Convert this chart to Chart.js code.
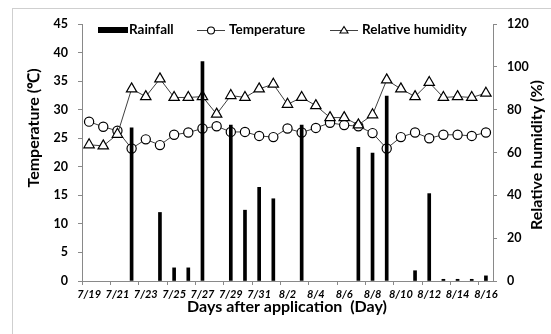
<!DOCTYPE html>
<html>
<head>
<meta charset="utf-8">
<script src="https://cdn.jsdelivr.net/npm/chart.js@4.4.1/dist/chart.umd.min.js"></script>
<style>
  html, body { margin: 0; padding: 0; background: #fff; }
  #wrap { width: 551px; height: 334px; }
</style>
</head>
<body>
<div id="wrap"><canvas id="c" width="551" height="334"></canvas></div>
<script>
const dates = ['7/19','7/20','7/21','7/22','7/23','7/24','7/25','7/26','7/27','7/28','7/29','7/30','7/31',
  '8/1','8/2','8/3','8/4','8/5','8/6','8/7','8/8','8/9','8/10','8/11','8/12','8/13','8/14','8/15','8/16'];
const rainfall = [null,null,null,26.8,null,12.0,2.3,2.3,38.4,null,27.3,12.4,16.4,14.4,null,27.3,null,null,null,
  23.4,22.4,32.4,null,1.8,15.3,0.3,0.3,0.3,0.9];
const temperature = [27.9,27.0,26.3,23.2,24.8,23.8,25.6,26.0,26.7,27.1,26.1,26.1,25.4,25.2,26.7,26.0,26.8,27.7,27.3,
  27.1,25.9,23.2,25.2,26.0,25.0,25.6,25.6,25.4,26.0];
const humidity = [63.6,63.1,68.5,89.7,86.1,94.4,85.7,85.7,86.1,77.9,86.6,85.7,89.7,91.9,82.5,85.7,81.9,76.3,76.3,
  72.9,77.6,93.9,89.7,86.1,92.7,85.7,86.1,85.7,87.7];
const tempTicks = [0,5,10,15,20,25,30,35,40,45];
const rhTicks = [0,20,40,60,80,100,120];

const FONT = 'Lato, "Liberation Sans", sans-serif';
const AXIS = '#898989';

const decor = {
  id: 'decor',
  beforeDraw(chart) {
    const ctx = chart.ctx;
    ctx.save();
    ctx.fillStyle = '#fff';
    ctx.fillRect(0, 0, chart.width, chart.height);
    ctx.strokeStyle = '#cfcfcf';
    ctx.lineWidth = 1;
    ctx.strokeRect(12.5, 8.5, chart.width + 20, chart.height + 20);
    ctx.restore();
  },
  afterDraw(chart) {
    const ctx = chart.ctx;
    ctx.save();
    ctx.fillStyle = '#000';
    // axis titles
    ctx.font = 'bold 16px ' + FONT;
    ctx.textAlign = 'center';
    ctx.textBaseline = 'middle';
    ctx.save();
    ctx.translate(34, 128);
    ctx.rotate(-Math.PI / 2);
    ctx.fillText('Temperature (\u2103)', 0, 0);
    ctx.restore();
    ctx.save();
    ctx.translate(537, 155);
    ctx.rotate(-Math.PI / 2);
    ctx.fillText('Relative humidity (%)', 0, 0);
    ctx.restore();
    ctx.fillText('Days after application  (Day)', 287, 307);

    // legend
    const ly = 30;
    ctx.font = 'bold 13.5px ' + FONT;
    ctx.textAlign = 'left';
    ctx.fillRect(98, ly - 3, 30, 6);
    ctx.fillText('Rainfall', 129, ly);

    ctx.strokeStyle = '#404040';
    ctx.lineWidth = 1;
    ctx.beginPath(); ctx.moveTo(197, ly + 0.5); ctx.lineTo(225, ly + 0.5); ctx.stroke();
    ctx.strokeStyle = '#000';
    ctx.fillStyle = '#fff';
    ctx.lineWidth = 1.1;
    ctx.beginPath(); ctx.arc(211, ly + 0.5, 3.5, 0, Math.PI * 2); ctx.fill(); ctx.stroke();
    ctx.fillStyle = '#000';
    ctx.fillText('Temperature', 229, ly);

    ctx.strokeStyle = '#404040';
    ctx.lineWidth = 1;
    ctx.beginPath(); ctx.moveTo(330, ly + 0.5); ctx.lineTo(358, ly + 0.5); ctx.stroke();
    ctx.strokeStyle = '#000';
    ctx.fillStyle = '#fff';
    ctx.lineWidth = 1.1;
    ctx.beginPath(); ctx.moveTo(344, ly - 3.5); ctx.lineTo(348, ly + 3); ctx.lineTo(340, ly + 3); ctx.closePath();
    ctx.fill(); ctx.stroke();
    ctx.fillStyle = '#000';
    ctx.fillText('Relative humidity', 362, ly);
    ctx.restore();
  }
};

new Chart(document.getElementById('c'), {
  data: {
    labels: dates,
    datasets: [
      {
        type: 'bar', label: 'Rainfall', data: rainfall, yAxisID: 'y',
        backgroundColor: '#000', borderWidth: 0, barThickness: 3, order: 0
      },
      {
        type: 'line', label: 'Temperature', data: temperature, yAxisID: 'y',
        borderColor: '#404040', borderWidth: 1, pointStyle: 'circle', pointRadius: 4.6,
        pointBorderColor: '#000', pointBackgroundColor: '#fff', pointBorderWidth: 1.2,
        tension: 0, order: 2
      },
      {
        type: 'line', label: 'Relative humidity', data: humidity, yAxisID: 'y1',
        borderColor: '#404040', borderWidth: 1, pointStyle: 'triangle', pointRadius: 6,
        pointBorderColor: '#000', pointBackgroundColor: '#fff', pointBorderWidth: 1.2,
        tension: 0, order: 1
      }
    ]
  },
  options: {
    responsive: false,
    devicePixelRatio: 1,
    animation: false,
    layout: { padding: { top: 24, left: 0, right: 0, bottom: 0 } },
    plugins: { legend: { display: false }, tooltip: { enabled: false } },
    scales: {
      x: {
        type: 'category', offset: true,
        grid: {
          offset: true, drawOnChartArea: false, tickLength: 4,
          color: (c) => (c.index % 2 === 0 ? AXIS : 'rgba(0,0,0,0)')
        },
        border: { color: AXIS, width: 1 },
        ticks: {
          autoSkip: false, maxRotation: 0, minRotation: 0, padding: 3, color: '#000',
          font: { family: FONT, size: 11, style: 'italic', weight: 'bold' },
          callback: (v, i) => (i % 2 === 0 ? dates[i] : '')
        },
        afterFit: (s) => { s.height = 53; }
      },
      y: {
        position: 'left', min: 0, max: 45,
        afterBuildTicks: (s) => { s.ticks = tempTicks.map(v => ({ value: v })); },
        grid: { drawOnChartArea: false, tickLength: 4, color: AXIS },
        border: { color: AXIS, width: 1 },
        ticks: { padding: 10, color: '#000', font: { family: FONT, size: 12.5, weight: 'bold' } },
        afterFit: (s) => { s.width = 82; }
      },
      y1: {
        position: 'right', min: 0, max: 120,
        afterBuildTicks: (s) => { s.ticks = rhTicks.map(v => ({ value: v })); },
        grid: { drawOnChartArea: false, tickLength: 4, color: AXIS },
        border: { color: AXIS, width: 1 },
        ticks: { padding: 10, color: '#000', font: { family: FONT, size: 12.5, weight: 'bold' } },
        afterFit: (s) => { s.width = 58; }
      }
    }
  },
  plugins: [decor]
});
</script>
</body>
</html>
